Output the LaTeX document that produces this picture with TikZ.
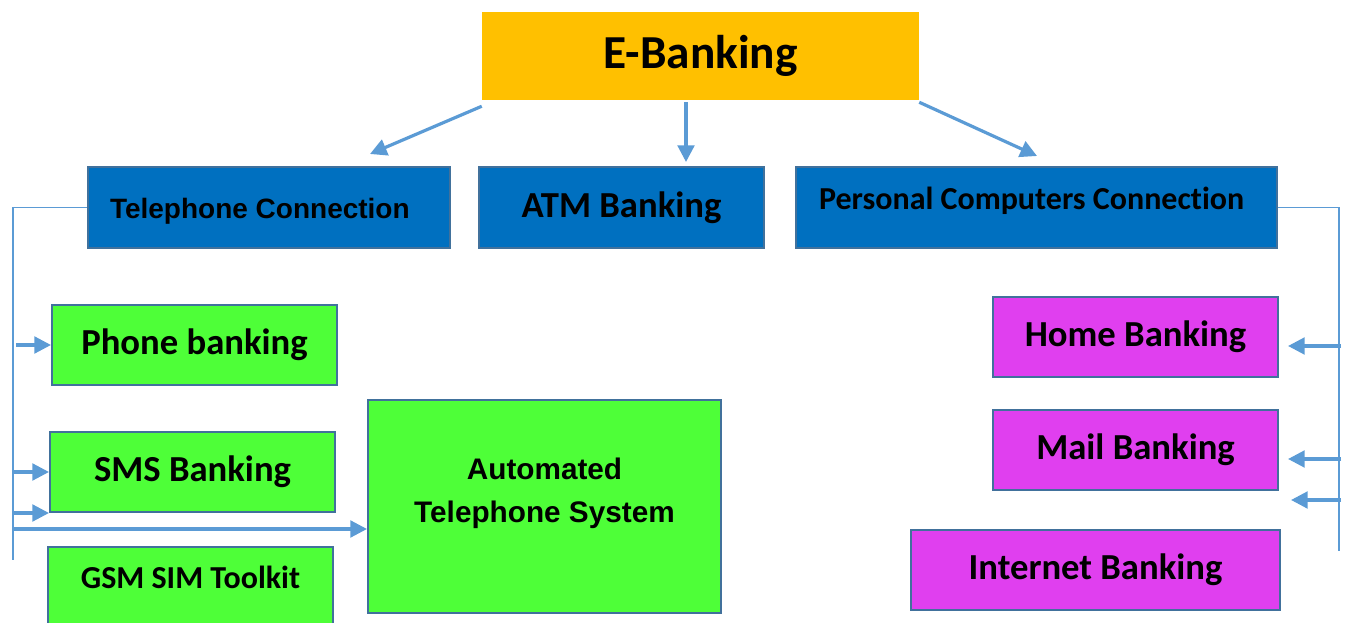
\documentclass[tikz,border=0pt]{standalone}
\usepackage{fontspec}
\setmainfont{Carlito}[Ligatures={NoCommon}]
\newfontfamily\arialfont{Liberation Sans}
\usetikzlibrary{arrows.meta,calc}

\definecolor{gold}{HTML}{FFC000}
\definecolor{connblue}{HTML}{0070C0}
\definecolor{boxline}{HTML}{41719C}
\definecolor{telgreen}{HTML}{4EFF38}
\definecolor{pcpink}{HTML}{E03FEF}
\definecolor{arrowblue}{HTML}{5B9BD5}

\begin{document}
\begin{tikzpicture}[
    x=0.75pt, y=-0.75pt,
    box/.style={rectangle, draw=boxline, line width=1.5pt, inner sep=0pt, align=center},
    head/.style={rectangle, fill=gold, minimum width=327.75pt, minimum height=66pt, font=\bfseries\fontsize{35.5}{40}\selectfont},
    conn/.style={box, fill=connblue, minimum height=60.75pt},
    telbox/.style={box, fill=telgreen, minimum width=213.75pt, minimum height=60pt},
    pcbox/.style={box, fill=pcpink, minimum width=213.75pt, minimum height=60pt},
    big/.style={font=\bfseries\fontsize{27.5}{31}\selectfont},
    mid/.style={font=\bfseries\fontsize{24}{28}\selectfont},
    arial/.style={font=\arialfont\bfseries\fontsize{#1}{32}\selectfont},
    arrow/.style={-{Triangle[length=12.5pt,width=12.5pt]}, line width=2.4pt, draw=arrowblue},
    bus/.style={draw=arrowblue, line width=1pt}
]
\useasboundingbox (0,0) rectangle (1348,623);
\clip (0,0) rectangle (1348,623);

% Top
\node[head] (ebank) at (700.5,56) {E-Banking};

% Connections
\node[conn, arial=21, minimum width=271.5pt, text height=17.25pt, text depth=0pt]
      (tel) at (269,207.5) {\makebox[238.5pt][l]{Telephone Connection}};
\node[conn, big, minimum width=213.75pt] (atm) at (621.5,207.5) {ATM Banking};
\node[conn, mid, minimum width=360.75pt, text height=3.3pt, text depth=0pt]
      (pc) at (1036.5,207.5) {\makebox[326.25pt][l]{Personal Computers Connection}};

% Telephone services
\node[telbox, big] (phone) at (194.5,345) {Phone banking};
\node[telbox, big] (sms) at (192.5,472) {SMS Banking};
\node[telbox, mid, text height=1.5pt, text depth=0pt] (gsm) at (190.5,587) {GSM SIM Toolkit};
\node[telbox, arial=22.3, align=none, minimum width=264.75pt, minimum height=159.75pt,
      text height=0pt, text depth=39.8pt] (ats) at (544.5,506.5)
      {\begin{tabular}[t]{@{}c@{}}Automated\\Telephone System\end{tabular}};

% Computer services
\node[pcbox, big] (home) at (1135.5,337) {Home Banking};
\node[pcbox, big] (mail) at (1135.5,450) {Mail Banking};
\node[pcbox, big, minimum width=276.75pt] (inet) at (1095.5,570) {Internet Banking};

% Arrows from the top
\draw[arrow] ($(ebank.south west)+(0,6)$) -- ($(tel.north)+(101,-12)$);
\draw[arrow] ($(ebank.south)+(-14.5,2)$) -- ($(atm.north)+(64.5,-4)$);
\draw[arrow] ($(ebank.south east)+(0,2)$) -- ($(pc.north)+(0.5,-10)$);

% Left bus
\coordinate (lbus) at (13,560);
\draw[bus] (tel.west) -| (lbus);
\draw[arrow] ($(lbus |- phone.west)+(3,0)$) -- (phone.west);
\draw[arrow] ($(lbus |- sms.west)+(1,0)$) -- (sms.west);
\draw[arrow] (lbus |- sms.south west) -- (sms.south west);
\draw[arrow] ($(lbus |- ats.west)+(0,22.5)$) -- ($(ats.west)+(0,22.5)$);

% Right bus
\coordinate (rbus) at (1339,551);
\draw[bus] (pc.east) -| (rbus);
\draw[arrow] ($(rbus |- home.east)+(2,9)$) -- ($(home.east)+(9,9)$);
\draw[arrow] ($(rbus |- mail.east)+(2,9)$) -- ($(mail.east)+(9,9)$);
\draw[arrow] ($(rbus |- mail.south east)+(2,9)$) -- ($(mail.south east)+(12,9)$);

\end{tikzpicture}
\end{document}
